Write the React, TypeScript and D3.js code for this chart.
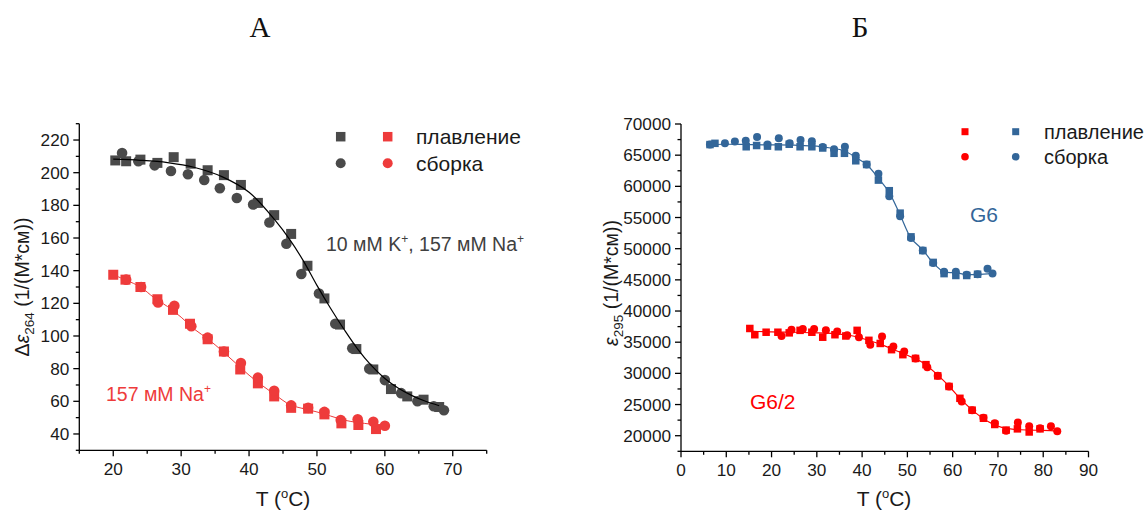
import React from "react";
import * as d3 from "d3";

// ---------- Panel A data ----------
const aXTicks = [20, 30, 40, 50, 60, 70];
const aYTicks = [40, 60, 80, 100, 120, 140, 160, 180, 200, 220];
const kMeltT = [20.3, 21.9, 24.0, 26.5, 28.9, 31.4, 33.9, 36.3, 38.8, 41.3, 43.7, 46.2, 48.6, 51.1, 53.4, 55.8, 58.3, 60.9, 63.3, 65.7, 68.0];
const kMeltE = [207.5, 207, 208, 206, 209.5, 205.5, 201.5, 198.5, 192.5, 181.5, 174, 162.5, 143, 123, 107, 92, 79.5, 67.5, 63, 61, 56.5];
const kAsmT = [21.3, 23.7, 26.1, 28.5, 31.0, 33.4, 35.7, 38.2, 40.6, 43.0, 45.5, 47.7, 50.3, 52.7, 55.2, 57.7, 60.0, 62.4, 64.8, 67.2, 68.7];
const kAsmE = [212, 207, 204.5, 201, 199, 195.5, 190.5, 184.5, 180.5, 169.5, 156.5, 138, 126, 107.5, 92.5, 80, 73, 65, 60, 57, 54.5];
const kFitT = [20, 24, 28, 32, 36, 40, 44, 46, 48, 50, 52, 54, 56, 58, 60, 62, 64, 66, 68];
const kFitE = [208.3, 207.6, 206.2, 203.2, 197.6, 188, 170, 159, 146, 131, 117, 104, 92, 82, 74, 68, 63.5, 60, 57.3];
const naMeltT = [20.0, 21.8, 24.0, 26.5, 28.8, 31.3, 33.9, 36.3, 38.7, 41.3, 43.7, 46.2, 48.7, 51.1, 53.6, 56.1, 58.7];
const naMeltE = [137.5, 134.5, 130, 122.5, 116, 107.5, 98, 90.5, 79.5, 71, 63, 56, 55.5, 52, 46.5, 45.5, 43];
const naAsmT = [21.9, 24.1, 26.6, 29.0, 31.5, 33.9, 36.3, 38.8, 41.3, 43.7, 46.2, 48.7, 51.1, 53.5, 56.0, 58.3, 60.0];
const naAsmE = [134.5, 130, 120.5, 118.5, 106, 99, 90.5, 83.5, 74.5, 66.5, 57.5, 56, 53.5, 48.5, 49, 47.5, 45];
const naLineT = [20, 22, 24, 26, 28, 30, 32, 34, 36, 38, 40, 42, 44, 46, 48, 50, 52, 54, 56, 58, 60];
const naLineE = [137.5, 134, 130, 123.5, 118, 111.5, 104, 98, 91, 83.5, 76, 69.5, 63.5, 58, 55.5, 53.5, 51, 48.5, 47, 46, 45];

// ---------- Panel Б data ----------
const bXTicks = [0, 10, 20, 30, 40, 50, 60, 70, 80, 90];
const bYTicks = [20000, 25000, 30000, 35000, 40000, 45000, 50000, 55000, 60000, 65000, 70000];
const g6MeltT = [6.4, 7.5, 14.4, 16.7, 19.1, 21.5, 23.9, 26.3, 28.9, 31.3, 33.8, 36.1, 38.6, 41.0, 43.6, 46.0, 48.4, 50.8, 53.4, 55.7, 58.1, 60.7, 63.1, 65.5];
const g6MeltE = [66700, 66900, 66350, 66550, 66450, 66350, 66750, 66350, 66350, 66150, 65300, 65300, 64100, 63500, 61000, 59300, 55700, 51900, 49700, 47800, 46000, 45700, 45700, 45900];
const g6AsmT = [6.4, 9.7, 11.9, 14.3, 16.8, 19.1, 21.6, 24.0, 26.4, 28.9, 31.3, 33.8, 36.2, 38.6, 41.0, 43.6, 46.0, 48.4, 50.8, 53.4, 55.7, 58.1, 60.7, 63.1, 65.5, 67.7, 68.8];
const g6AsmE = [66700, 66900, 67200, 67300, 67900, 66700, 67700, 66900, 67450, 67250, 66300, 65950, 66350, 64900, 63500, 62000, 58400, 55200, 51700, 49700, 47700, 46300, 46300, 45800, 45900, 46800, 46000];
const g6LineT = [6.4, 10, 15, 20, 25, 30, 33, 36, 38.7, 41, 43.6, 46, 48.4, 50.8, 53.4, 55.7, 58.1, 60.7, 63.1, 65.5, 68.8];
const g6LineE = [66700, 66750, 66700, 66650, 66600, 66450, 66150, 65700, 64600, 63500, 61300, 59000, 55400, 51700, 49800, 47700, 46300, 46150, 45850, 45850, 46050];
const g62MeltT = [15.2, 16.3, 18.8, 21.4, 23.9, 26.3, 28.9, 31.3, 34.0, 36.4, 38.9, 41.5, 44.0, 46.5, 49.0, 51.8, 54.1, 56.7, 59.2, 61.6, 64.3, 66.8, 69.3, 71.8, 74.3, 76.9, 79.3];
const g62MeltE = [37200, 36200, 36600, 36600, 36500, 36900, 36600, 35800, 36200, 36000, 36900, 35300, 34800, 33800, 33000, 32400, 31400, 29600, 27900, 26000, 24100, 22800, 21800, 20900, 21100, 20600, 21100];
const g62AsmT = [22.2, 24.4, 26.9, 29.4, 32.0, 34.5, 36.7, 39.3, 41.8, 44.4, 46.9, 49.3, 51.8, 54.4, 56.7, 59.2, 62.0, 64.3, 66.8, 69.3, 71.8, 74.4, 76.9, 79.3, 81.7, 83.1];
const g62AsmE = [36000, 37000, 37100, 37100, 36900, 36700, 36100, 35800, 34600, 35900, 34300, 33500, 32400, 31000, 29600, 27900, 25500, 24100, 22900, 22000, 20800, 22100, 21500, 21200, 21500, 20700];
const g62LineT = [15.2, 20, 25, 30, 35, 38, 41, 44, 47, 50, 53, 56, 59, 62, 65, 68, 71, 74, 77, 80, 83.1];
const g62LineE = [36800, 36650, 36600, 36500, 36300, 36000, 35400, 34700, 33800, 32900, 31900, 30200, 28100, 25700, 23700, 22200, 21300, 21000, 20900, 20850, 20750];

const FONT = "'Liberation Sans', Arial, sans-serif";

const zip = (xs: number[], ys: number[]) => xs.map((x, i) => [x, ys[i]] as [number, number]);

function Square({ x, y, s, fill }: { x: number; y: number; s: number; fill: string }) {
  return <rect x={x - s / 2} y={y - s / 2} width={s} height={s} fill={fill} />;
}

type AxisProps = {
  x: d3.ScaleLinear<number, number>;
  y: d3.ScaleLinear<number, number>;
  xTicks: number[];
  yTicks: number[];
  xMinor: number[];
  yMinor: number[];
};

function Axes({ x, y, xTicks, yTicks, xMinor, yMinor }: AxisProps) {
  const [x0, x1] = x.range();
  const [yb, yt] = y.range();
  return (
    <g stroke="#000" strokeWidth={1.3}>
      <line x1={x0} x2={x1} y1={yb} y2={yb} />
      <line x1={x0} x2={x0} y1={yb} y2={yt} />
      {xTicks.map((t) => (
        <line key={"xt" + t} x1={x(t)} x2={x(t)} y1={yb} y2={yb + 6} />
      ))}
      {xMinor.map((t) => (
        <line key={"xm" + t} x1={x(t)} x2={x(t)} y1={yb} y2={yb + 3.5} />
      ))}
      {yTicks.map((t) => (
        <line key={"yt" + t} x1={x0} x2={x0 - 6} y1={y(t)} y2={y(t)} />
      ))}
      {yMinor.map((t) => (
        <line key={"ym" + t} x1={x0} x2={x0 - 3.5} y1={y(t)} y2={y(t)} />
      ))}
      <g stroke="none" fill="#1a1a1a" fontFamily={FONT} fontSize={17.2}>
        {xTicks.map((t) => (
          <text key={"xl" + t} x={x(t)} y={yb + 25} textAnchor="middle">
            {t}
          </text>
        ))}
        {yTicks.map((t) => (
          <text key={"yl" + t} x={x0 - 10} y={y(t) + 6} textAnchor="end">
            {t}
          </text>
        ))}
      </g>
    </g>
  );
}

export default function App() {
  // Panel A scales
  const ax = d3.scaleLinear().domain([15, 75]).range([79.3, 486.7]);
  const ay = d3.scaleLinear().domain([30, 230]).range([450.3, 123.7]);
  // Panel Б scales
  const bx = d3.scaleLinear().domain([0, 90]).range([681, 1088.5]);
  const by = d3.scaleLinear().domain([17500, 70000]).range([451.3, 124]);

  const lineA = d3.line<[number, number]>().x((d) => ax(d[0])).y((d) => ay(d[1])).curve(d3.curveCatmullRom);
  const lineB = d3.line<[number, number]>().x((d) => bx(d[0])).y((d) => by(d[1])).curve(d3.curveCatmullRom);

  const dark = "#4a4a4a";
  const redA = "#ee3b3b";
  const blue = "#336699";
  const redB = "#ff0000";

  const aXMinor = d3.range(15, 76, 10);
  const aYMinor = d3.range(30, 231, 20);
  const bXMinor = d3.range(5, 90, 10);
  const bYMinor = d3.range(17500, 70001, 5000);

  return (
    <svg width={1145} height={513} style={{ display: "block", position: "absolute", left: 0, top: 0 }}>
      <rect width={1145} height={513} fill="#fff" />
      {/* titles */}
      <text x={260} y={37} textAnchor="middle" fontFamily="'Liberation Serif', 'Times New Roman', serif" fontSize={29} fill="#111">
        А
      </text>
      <text x={860} y={37} textAnchor="middle" fontFamily="'Liberation Serif', 'Times New Roman', serif" fontSize={29} fill="#111">
        Б
      </text>

      {/* ---------- Panel A ---------- */}
      <Axes x={ax} y={ay} xTicks={aXTicks} yTicks={aYTicks} xMinor={aXMinor} yMinor={aYMinor} />
      <path d={lineA(zip(naLineT, naLineE)) || ""} fill="none" stroke={redA} strokeWidth={1} />
      {zip(naMeltT, naMeltE).map((d, i) => (
        <Square key={"nm" + i} x={ax(d[0])} y={ay(d[1])} s={10} fill={redA} />
      ))}
      {zip(naAsmT, naAsmE).map((d, i) => (
        <circle key={"na" + i} cx={ax(d[0])} cy={ay(d[1])} r={5.3} fill={redA} />
      ))}
      {zip(kMeltT, kMeltE).map((d, i) => (
        <Square key={"km" + i} x={ax(d[0])} y={ay(d[1])} s={10} fill={dark} />
      ))}
      {zip(kAsmT, kAsmE).map((d, i) => (
        <circle key={"ka" + i} cx={ax(d[0])} cy={ay(d[1])} r={5.3} fill={dark} />
      ))}
      <path d={lineA(zip(kFitT, kFitE)) || ""} fill="none" stroke="#000" strokeWidth={1.2} />

      {/* legend A */}
      <Square x={340.7} y={136.7} s={9.5} fill={dark} />
      <Square x={387.7} y={136.7} s={9.5} fill={redA} />
      <circle cx={340.7} cy={163.3} r={5} fill={dark} />
      <circle cx={387.7} cy={163.3} r={5} fill={redA} />
      <g fontFamily={FONT} fontSize={21} fill="#1a1a1a">
        <text x={416} y={144}>плавление</text>
        <text x={416} y={170.5}>сборка</text>
      </g>
      <text x={326} y={251} fontFamily={FONT} fontSize={19.5} fill="#404040">
        10 мМ K<tspan dy={-8} fontSize={12}>+</tspan>
        <tspan dy={8}>, 157 мМ Na</tspan>
        <tspan dy={-8} fontSize={12}>+</tspan>
      </text>
      <text x={106} y={401} fontFamily={FONT} fontSize={19.5} fill={redA}>
        157 мМ Na<tspan dy={-8} fontSize={12}>+</tspan>
      </text>
      {/* axis titles A */}
      <text x={283} y={506} textAnchor="middle" fontFamily={FONT} fontSize={21} fill="#1a1a1a">
        T (<tspan dy={-8} fontSize={13}>o</tspan>
        <tspan dy={8}>C)</tspan>
      </text>
      <text transform="translate(29,287) rotate(-90)" textAnchor="middle" fontFamily={FONT} fontSize={19.5} fill="#1a1a1a">
        Δ<tspan fontStyle="italic">ε</tspan>
        <tspan dy={5} fontSize={13.5}>264</tspan>
        <tspan dy={-5}> (1/(M*см))</tspan>
      </text>

      {/* ---------- Panel Б ---------- */}
      <Axes x={bx} y={by} xTicks={bXTicks} yTicks={bYTicks} xMinor={bXMinor} yMinor={bYMinor} />
      <path d={lineB(zip(g6LineT, g6LineE)) || ""} fill="none" stroke={blue} strokeWidth={1.2} />
      <path d={lineB(zip(g62LineT, g62LineE)) || ""} fill="none" stroke={redB} strokeWidth={1.2} />
      {zip(g6MeltT, g6MeltE).map((d, i) => (
        <Square key={"gm" + i} x={bx(d[0])} y={by(d[1])} s={7.5} fill={blue} />
      ))}
      {zip(g6AsmT, g6AsmE).map((d, i) => (
        <circle key={"ga" + i} cx={bx(d[0])} cy={by(d[1])} r={4} fill={blue} />
      ))}
      {zip(g62MeltT, g62MeltE).map((d, i) => (
        <Square key={"hm" + i} x={bx(d[0])} y={by(d[1])} s={7.5} fill={redB} />
      ))}
      {zip(g62AsmT, g62AsmE).map((d, i) => (
        <circle key={"ha" + i} cx={bx(d[0])} cy={by(d[1])} r={4} fill={redB} />
      ))}

      {/* legend Б */}
      <Square x={965} y={131.7} s={7} fill={redB} />
      <Square x={1015.7} y={131.7} s={7} fill={blue} />
      <circle cx={965} cy={156.7} r={3.8} fill={redB} />
      <circle cx={1015.7} cy={156.7} r={3.8} fill={blue} />
      <g fontFamily={FONT} fontSize={20} fill="#1a1a1a">
        <text x={1044} y={139}>плавление</text>
        <text x={1044} y={163.5}>сборка</text>
      </g>
      <text x={970} y={222} fontFamily={FONT} fontSize={21} fill={blue}>
        G6
      </text>
      <text x={750} y={408.5} fontFamily={FONT} fontSize={21} fill={redB}>
        G6/2
      </text>
      {/* axis titles Б */}
      <text x={884} y={506} textAnchor="middle" fontFamily={FONT} fontSize={21} fill="#1a1a1a">
        T (<tspan dy={-8} fontSize={13}>o</tspan>
        <tspan dy={8}>C)</tspan>
      </text>
      <text transform="translate(618,283) rotate(-90)" textAnchor="middle" fontFamily={FONT} fontSize={19.5} fill="#1a1a1a">
        <tspan fontStyle="italic">ε</tspan>
        <tspan dy={5} fontSize={13.5}>295</tspan>
        <tspan dy={-5}> (1/(M*см))</tspan>
      </text>
    </svg>
  );
}
